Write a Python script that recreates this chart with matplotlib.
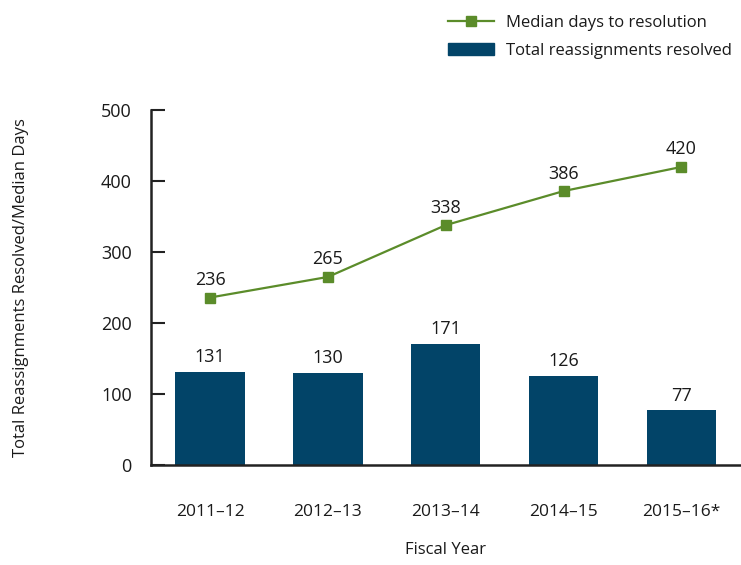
import numpy as np
import matplotlib.pyplot as plt
from matplotlib.lines import Line2D
from matplotlib.patches import Patch

# 数据
years = ['2011\u201312', '2012\u201313', '2013\u201314', '2014\u201315', '2015\u201316*']
resolved = [131, 130, 171, 126, 77]
median_days = [236, 265, 338, 386, 420]

bar_color = '#024468'
line_color = '#5b8c2a'
text_color = '#1a1a1a'

plt.rcParams['font.family'] = ['Open Sans', 'DejaVu Sans']
plt.rcParams['text.color'] = text_color

fig = plt.figure(figsize=(7.41, 5.65), dpi=100)
ax = fig.add_axes([0.204, 0.177, 0.795, 0.628])

x = np.arange(len(years))
ax.bar(x, resolved, width=0.59, color=bar_color, zorder=2)
ax.plot(x, median_days, color=line_color, lw=1.6, marker='s', ms=6.5, zorder=3)

for xi, v in zip(x, resolved):
    ax.text(xi, v + 8, str(v), ha='center', va='bottom', fontsize=13)
for xi, v in zip(x, median_days):
    ax.text(xi, v + 12, str(v), ha='center', va='bottom', fontsize=13)

ax.set_xlim(-0.5, 4.5)
ax.set_ylim(0, 500)
ax.set_yticks([0, 100, 200, 300, 400, 500])
ax.set_xticks(x)
ax.set_xticklabels(years)
ax.tick_params(axis='y', direction='in', length=10, width=1.5, labelsize=13,
               pad=14, labelcolor=text_color, color='#222222')
ax.tick_params(axis='x', length=0, labelsize=12.5, pad=28, labelcolor=text_color)
for s in ['top', 'right']:
    ax.spines[s].set_visible(False)
for s in ['left', 'bottom']:
    ax.spines[s].set_linewidth(1.8)
    ax.spines[s].set_color('#222222')

ax.set_xlabel('Fiscal Year', fontsize=12, labelpad=16, color=text_color)
ax.set_ylabel('Total Reassignments Resolved/Median Days', fontsize=12,
              labelpad=52, color=text_color)

handles = [Line2D([0], [0], color=line_color, lw=1.6, marker='s', ms=6.5),
           Patch(color=bar_color)]
fig.legend(handles, ['Median days to resolution', 'Total reassignments resolved'],
           loc='upper left', bbox_to_anchor=(0.584, 1.0), frameon=False,
           fontsize=12, handlelength=2.8, handletextpad=0.7, labelspacing=0.7)

fig.savefig('out.png', dpi=100)
